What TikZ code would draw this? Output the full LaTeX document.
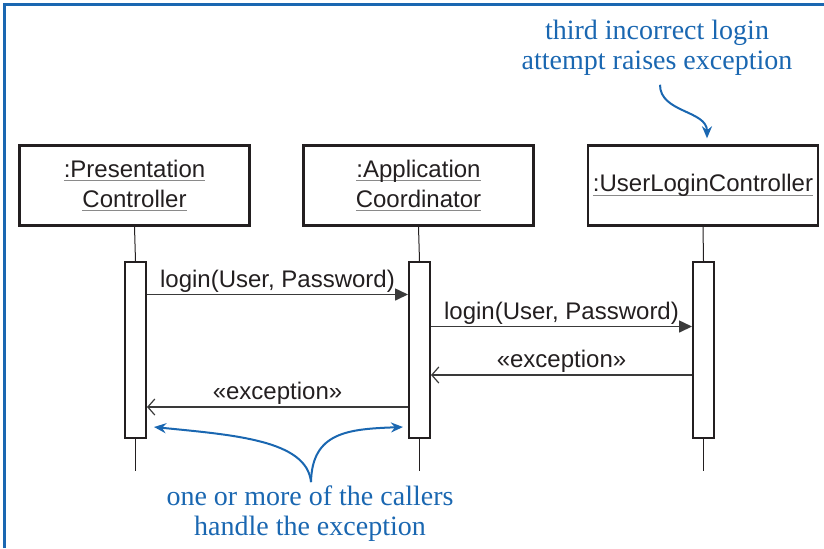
\documentclass[tikz,border=0pt]{standalone}
\usepackage{fontspec}
\setmainfont{Liberation Serif}
\setsansfont{Liberation Sans}
\usepackage{xcolor}
\usetikzlibrary{arrows.meta,positioning,calc}
\definecolor{NoteBlue}{HTML}{1A67B1}
\definecolor{Ink}{HTML}{231F20}
\definecolor{Wire}{HTML}{3A3A3A}
\definecolor{Rule}{HTML}{8A8A8A}

\newsavebox\objbox
\newcommand{\objname}[1]{\sbox\objbox{#1}\rlap{\color{Rule}\rule[-2.2pt]{\wd\objbox}{0.7pt}}\usebox\objbox}

\begin{document}
\begin{tikzpicture}[
    x=0.5pt, y=-0.5pt,
    font=\sffamily\fontsize{12}{15}\selectfont,
    text=Ink,
    objbox/.style={
        draw=Ink,
        line width=1.2pt,
        align=center,
        minimum width=115pt,
        minimum height=40pt,
        inner sep=2pt
    },
    actbar/.style={
        draw=Ink,
        line width=1pt,
        fill=white,
        minimum width=10.5pt,
        minimum height=88pt,
        inner sep=0pt
    },
    lifeline/.style={
        draw=Ink,
        line width=0.5pt
    },
    call/.style={
        -{Triangle[length=6.5pt,width=6pt]},
        line width=0.8pt,
        draw=Wire
    },
    reply/.style={
        -{Straight Barb[length=3.5pt,width=8pt,line width=0.6pt]},
        line width=0.8pt,
        draw=Wire
    },
    msglabel/.style={
        midway,
        above=-0.3pt,
        inner sep=1pt
    },
    note/.style={
        font=\rmfamily\fontsize{14}{15}\selectfont,
        text=NoteBlue,
        align=center
    },
    pointer/.style={
        -{Stealth[length=6pt,width=5pt]},
        line width=1pt,
        draw=NoteBlue
    }
]

% Canvas and frame
\useasboundingbox (0,0) rectangle (824,548);
\draw[NoteBlue, line width=1.4pt] (4.5,548) -- (4.5,4.5) -- (824,4.5);

% Objects
\node[objbox] (pc) at (134.5,185.5) {\objname{:Presentation}\\\objname{Controller}};
\node[objbox] (ac) at (418.5,185.5) {\objname{:Application}\\\objname{Coordinator}};
\node[objbox] (ulc) at (703,185.5) {\objname{:UserLoginController}};

% Activation bars
\node[actbar] (pcbar) at (135.5,350) {};
\node[actbar] (acbar) at (419.5,350) {};
\node[actbar] (ulcbar) at (703.5,350) {};

% Lifelines
\foreach \obj in {pc,ac,ulc} {
    \coordinate (\obj end) at ($(\obj bar.south)+(0,32)$);
    \draw[lifeline] (\obj.south) -- (\obj bar.north);
    \draw[lifeline] (\obj bar.south) -- (\obj end);
}

% Messages
\coordinate (m1) at (0,294.5);
\coordinate (m2) at (0,326.5);
\coordinate (r1) at (0,375);
\coordinate (r2) at (0,407);

\draw[call] (pcbar.east |- m1) -- (acbar.west |- m1)
    node[msglabel] {login(User, Password)};
\draw[call] (acbar.east |- m2) -- (ulcbar.west |- m2)
    node[msglabel] {login(User, Password)};
\draw[reply] (ulcbar.west |- r1) -- (acbar.east |- r1)
    node[msglabel] {«exception»};
\draw[reply] (acbar.west |- r2) -- (pcbar.east |- r2)
    node[msglabel] {«exception»};

% Notes
\node[note] (raise) at (657,48) {third incorrect login\\attempt raises exception};
\draw[pointer] ($(raise.south)+(3,2)$) .. controls +(0,28) and +(0,-28) .. ($(ulc.north)+(4,-6)$);

\node[note] (handle) at (310,514) {one or more of the callers\\handle the exception};
\draw[pointer] ($(handle.north)+(1,3)$) .. controls +(-4,-42) and +(80,8) .. ($(pcbar.south east)+(7,-12)$);
\draw[pointer] ($(handle.north)+(1,3)$) .. controls +(1,-50) and +(-55,2) .. ($(acbar.south west)+(-5,-12)$);

\end{tikzpicture}
\end{document}
